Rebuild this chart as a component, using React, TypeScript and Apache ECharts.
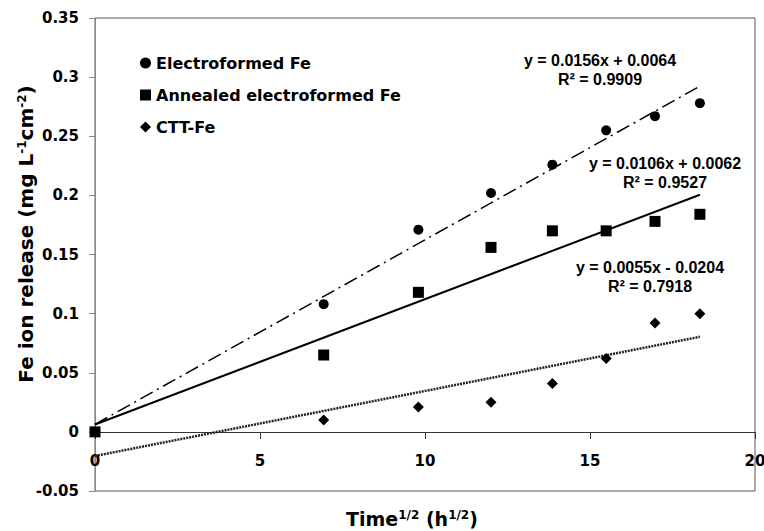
import React, { useEffect, useRef } from "react";
import * as echarts from "echarts";

const timeSqrt = [0, 6.93, 9.8, 12, 13.86, 15.49, 16.97, 18.33];
const electroformed = [0, 0.108, 0.171, 0.202, 0.226, 0.255, 0.267, 0.278];
const annealed = [0, 0.065, 0.118, 0.156, 0.17, 0.17, 0.178, 0.184];
const ctt = [0, 0.01, 0.021, 0.025, 0.041, 0.062, 0.092, 0.1];

// trendline coefficients [slope, intercept] as printed on the chart
const fitElectroformed = [0.0156, 0.0064];
const fitAnnealed = [0.0106, 0.0062];
const fitCtt = [0.0055, -0.0204];
const fitRange = [0, 18.33];

const eqElectroformed = ["y = 0.0156x + 0.0064", "R² = 0.9909"];
const eqAnnealed = ["y = 0.0106x + 0.0062", "R² = 0.9527"];
const eqCtt = ["y = 0.0055x - 0.0204", "R² = 0.7918"];

const ARIAL = "'Liberation Sans', Arial, sans-serif";
const WIDE = "'DejaVu Sans', 'Liberation Sans', sans-serif";

function pairs(xs: number[], ys: number[]) {
  return xs.map((x, i) => [x, ys[i]]);
}
function fitLine(c: number[]) {
  return fitRange.map((x) => [x, c[0] * x + c[1]]);
}

export default function App() {
  const ref = useRef<HTMLDivElement>(null);
  useEffect(() => {
    if (!ref.current) return;
    const chart = echarts.init(ref.current, null, { renderer: "svg" });
    const eqText = (lines: string[], x: number, y: number) => ({
      type: "text",
      x,
      y,
      style: {
        text: lines.join("\n"),
        font: `bold 16px ${ARIAL}`,
        fill: "#000",
        align: "center",
        verticalAlign: "top",
        lineHeight: 19,
      },
      z: 10,
    });
    const titleRich = (size: number) => ({
      a: { fontSize: size, fontWeight: "bold", fill: "#000", color: "#000", fontFamily: WIDE },
      s: {
        fontSize: Math.round(size * 0.62),
        fontWeight: "bold",
        fill: "#000",
        color: "#000",
        fontFamily: WIDE,
        verticalAlign: "top",
        padding: [0, 0, Math.round(size * 0.45), 0],
      },
    });
    chart.setOption({
      animation: false,
      backgroundColor: "#fff",
      textStyle: { fontFamily: WIDE },
      grid: {
        left: 95,
        right: 9,
        top: 18,
        bottom: 40,
        show: true,
        borderColor: "#555",
        borderWidth: 1,
        outerBoundsMode: "none",
        containLabel: false,
      },
      legend: {
        orient: "vertical",
        left: 135,
        top: 50,
        itemGap: 16,
        itemWidth: 11,
        itemHeight: 11,
        data: ["Electroformed Fe", "Annealed electroformed Fe", "CTT-Fe"],
        textStyle: { fontSize: 16, fontWeight: "bold", color: "#000", fontFamily: WIDE },
      },
      xAxis: {
        type: "value",
        min: 0,
        max: 20,
        interval: 5,
        position: "bottom",
        offset: -59,
        axisLine: { onZero: false, lineStyle: { color: "#333", width: 1 } },
        axisTick: { show: true, length: 7, lineStyle: { color: "#333" } },
        axisLabel: { fontSize: 15, fontWeight: "bold", color: "#000", margin: 21, fontFamily: WIDE },
        splitLine: { show: false },
      },
      yAxis: {
        type: "value",
        min: -0.05,
        max: 0.35,
        interval: 0.05,
        axisLine: { show: true, lineStyle: { color: "#888", width: 1 } },
        axisTick: { show: true, length: 6, lineStyle: { color: "#888" } },
        axisLabel: {
          fontSize: 15,
          fontWeight: "bold",
          color: "#000",
          margin: 16,
          fontFamily: WIDE,
          formatter: (v: number) => String(parseFloat(v.toFixed(2))),
        },
        splitLine: { show: false },
      },
      series: [
        {
          name: "Electroformed Fe trend",
          type: "line",
          data: fitLine(fitElectroformed),
          symbol: "none",
          lineStyle: { color: "#000", width: 1.5, type: [14, 5, 2, 5] },
          z: 2,
        },
        {
          name: "Annealed electroformed Fe trend",
          type: "line",
          data: fitLine(fitAnnealed),
          symbol: "none",
          lineStyle: { color: "#000", width: 2 },
          z: 2,
        },
        {
          name: "CTT-Fe trend",
          type: "line",
          data: fitLine(fitCtt),
          symbol: "none",
          lineStyle: { color: "#222", width: 2.5, type: [2, 1] },
          z: 2,
        },
        {
          name: "Electroformed Fe",
          type: "scatter",
          data: pairs(timeSqrt, electroformed),
          symbol: "circle",
          symbolSize: 10,
          itemStyle: { color: "#000", opacity: 1 },
          z: 3,
        },
        {
          name: "Annealed electroformed Fe",
          type: "scatter",
          data: pairs(timeSqrt, annealed),
          symbol: "rect",
          symbolSize: 11,
          itemStyle: { color: "#000", opacity: 1 },
          z: 3,
        },
        {
          name: "CTT-Fe",
          type: "scatter",
          data: pairs(timeSqrt, ctt),
          symbol: "diamond",
          symbolSize: 11,
          itemStyle: { color: "#000", opacity: 1 },
          z: 3,
        },
      ],
      graphic: [
        eqText(eqElectroformed, 600, 51),
        eqText(eqAnnealed, 665, 154),
        eqText(eqCtt, 650, 258),
        {
          type: "text",
          x: 412,
          y: 519,
          style: {
            text: "{a|Time}{s|1/2}{a| (h}{s|1/2}{a|)}",
            rich: titleRich(19),
            align: "center",
            verticalAlign: "middle",
          },
        },
        {
          type: "text",
          x: 26,
          y: 234,
          rotation: Math.PI / 2,
          style: {
            text: "{a|Fe ion release (mg L}{s|-1}{a|cm}{s|-2}{a|)}",
            rich: titleRich(20),
            align: "center",
            verticalAlign: "middle",
          },
        },
      ],
    });
    return () => chart.dispose();
  }, []);
  return <div ref={ref} style={{ width: 764, height: 531, position: "absolute", left: 0, top: 0 }} />;
}
